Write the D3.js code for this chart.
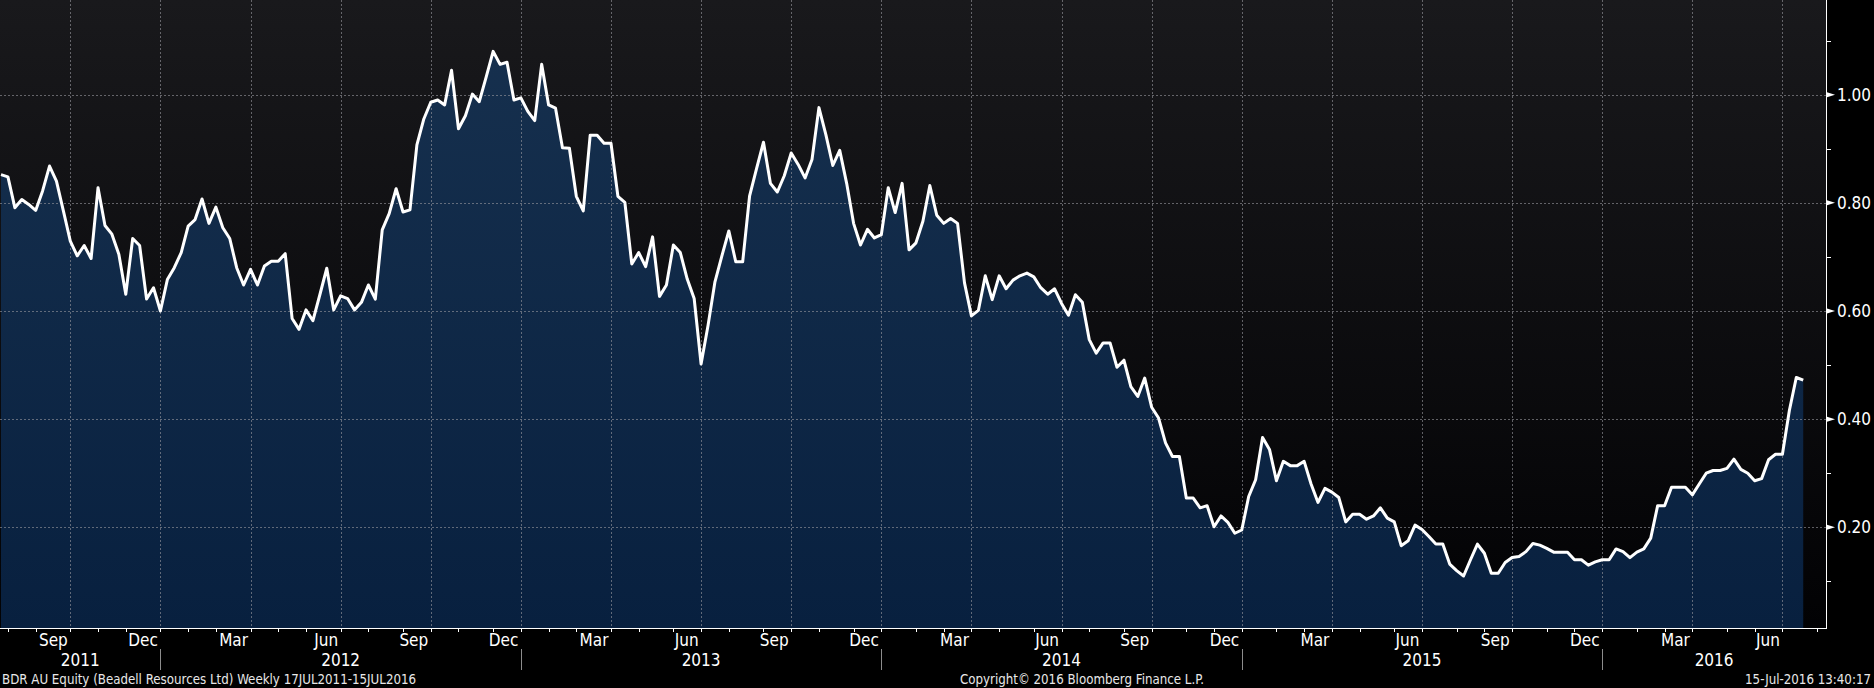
<!DOCTYPE html>
<html>
<head>
<meta charset="utf-8">
<script src="https://cdn.jsdelivr.net/npm/d3@7"></script>
<style>
  html, body { margin: 0; padding: 0; background: #000; }
  svg { display: block; }
  text { font-family: "DejaVu Sans Condensed", "DejaVu Sans", sans-serif; }
</style>
</head>
<body>
<svg id="chart" width="1874" height="688"></svg>
<script>
// ---- DATA (weekly closes, BDR AU Equity, 22 Jul 2011 - 15 Jul 2016) ----
const firstWeek = "2011-07-22";
const prices = [
  0.852, 0.848, 0.791, 0.806, 0.797, 0.786, 0.822, 0.868, 0.840, 0.785,
  0.729, 0.702, 0.721, 0.697, 0.828, 0.758, 0.742, 0.705, 0.631, 0.734,
  0.721, 0.622, 0.643, 0.600, 0.658, 0.680, 0.708, 0.757, 0.769, 0.807,
  0.762, 0.792, 0.754, 0.734, 0.680, 0.648, 0.677, 0.648, 0.683, 0.692,
  0.692, 0.706, 0.586, 0.566, 0.602, 0.582, 0.630,
  0.679, 0.602, 0.628, 0.623, 0.602, 0.616, 0.648, 0.622, 0.750, 0.780,
  0.826, 0.783, 0.787, 0.907, 0.955, 0.986, 0.990, 0.981, 1.045, 0.937,
  0.961, 1.001, 0.987, 1.033, 1.080, 1.056, 1.060, 0.990, 0.994, 0.969,
  0.952, 1.056, 0.981, 0.975, 0.902, 0.901, 0.812, 0.785, 0.925, 0.925,
  0.910, 0.910, 0.812,
  0.801, 0.687, 0.708, 0.682, 0.737, 0.627, 0.648, 0.722, 0.708, 0.659,
  0.623, 0.502, 0.573, 0.654, 0.702, 0.748, 0.691, 0.691, 0.813, 0.863,
  0.912, 0.836, 0.820, 0.850, 0.892, 0.871, 0.846, 0.880, 0.976, 0.926,
  0.869, 0.897, 0.836, 0.762, 0.722, 0.751, 0.735, 0.741, 0.828, 0.782,
  0.836, 0.713, 0.726,
  0.766, 0.832, 0.777, 0.762, 0.771, 0.762, 0.652, 0.591, 0.601, 0.665,
  0.621, 0.665, 0.641, 0.657, 0.665, 0.670, 0.663, 0.643, 0.631, 0.641,
  0.614, 0.592, 0.630, 0.616, 0.547, 0.522, 0.541, 0.541, 0.496, 0.509,
  0.460, 0.442, 0.476, 0.422, 0.402, 0.356, 0.331, 0.331, 0.254, 0.254,
  0.236, 0.240, 0.201, 0.221,
  0.209, 0.189, 0.195, 0.257, 0.288, 0.366, 0.344, 0.286, 0.322, 0.314,
  0.314, 0.322, 0.280, 0.246, 0.272, 0.265, 0.255, 0.210, 0.224, 0.224,
  0.215, 0.221, 0.236, 0.217, 0.210, 0.166, 0.175, 0.204, 0.196, 0.183,
  0.169, 0.169, 0.132, 0.120, 0.110, 0.140, 0.169, 0.152, 0.115, 0.115,
  0.135, 0.144, 0.146,
  0.155, 0.170, 0.167, 0.161, 0.154, 0.154, 0.154, 0.140, 0.140, 0.130,
  0.136, 0.140, 0.140, 0.160, 0.155, 0.144, 0.154, 0.160, 0.180, 0.240,
  0.240, 0.274, 0.274, 0.274, 0.260, 0.280, 0.300, 0.305, 0.305, 0.309,
  0.326, 0.307, 0.300, 0.286, 0.290, 0.325, 0.335, 0.335, 0.416, 0.477,
  0.472
];
const yTicksLabelled = [0.2, 0.4, 0.6, 0.8, 1.0];
const yTicksMinor = [0.1, 0.3, 0.5, 0.7, 0.9, 1.1];
const quarterMonths = ["Mar", "Jun", "Sep", "Dec"];
const years = [2011, 2012, 2013, 2014, 2015, 2016];
const footerLeft = "BDR AU Equity (Beadell Resources Ltd)  Weekly 17JUL2011-15JUL2016";
const footerMid = "Copyright\u00A9 2016 Bloomberg Finance L.P.";
const footerRight = "15-Jul-2016 13:40:17";

// ---- BUILD ----
const parse = d3.timeParse("%Y-%m-%d");
const start = parse(firstWeek);
const dates = prices.map((_, i) => d3.timeDay.offset(start, 7 * i));
const data = prices.map((v, i) => ({ date: dates[i], value: v }));

const W = 1874, H = 688;
const plotRight = 1826, plotBottom = 628;

const x = d3.scaleTime()
  .domain([start, parse("2016-08-07")])
  .range([1, plotRight]);
const y = d3.scaleLinear()
  .domain([0.0138, 1.175])
  .range([plotBottom, 0]);

const svg = d3.select("#chart");
const defs = svg.append("defs");

const bg = defs.append("linearGradient").attr("id", "bg")
  .attr("x1", 0).attr("y1", 0).attr("x2", 0).attr("y2", 1);
bg.append("stop").attr("offset", "0%").attr("stop-color", "#19191c");
bg.append("stop").attr("offset", "100%").attr("stop-color", "#020204");

const af = defs.append("linearGradient").attr("id", "af")
  .attr("gradientUnits", "userSpaceOnUse")
  .attr("x1", 0).attr("y1", 0).attr("x2", 0).attr("y2", plotBottom);
af.append("stop").attr("offset", "0%").attr("stop-color", "#17314f");
af.append("stop").attr("offset", "100%").attr("stop-color", "#08203f");

// page background
svg.append("rect").attr("width", W).attr("height", H).attr("fill", "#000");
// plot background
svg.append("rect").attr("x", 0).attr("y", 0)
  .attr("width", plotRight).attr("height", plotBottom).attr("fill", "url(#bg)");

// area
const area = d3.area()
  .x(d => x(d.date)).y0(plotBottom).y1(d => y(d.value));
svg.append("path").datum(data).attr("d", area).attr("fill", "url(#af)");

// month ticks: last weekly (Friday) date of each month
const months = d3.timeMonth.range(d3.timeMonth.floor(start), d3.timeMonth.offset(parse("2016-08-07"), 1));
const monthTicks = [];
months.forEach(m => {
  const last = d3.timeDay.offset(d3.timeMonth.offset(m, 1), -1);
  const back = (last.getDay() - 5 + 7) % 7;
  const t = d3.timeDay.offset(last, -back);
  if (t >= start && t <= x.domain()[1]) monthTicks.push(t);
});
const fmtMon = d3.timeFormat("%b");
const quarterTicks = monthTicks.filter(t => quarterMonths.includes(fmtMon(t)));

// grid
const grid = svg.append("g").attr("stroke", "#9a9aa0").attr("stroke-opacity", 0.6)
  .attr("stroke-width", 1).attr("stroke-dasharray", "2,2").attr("fill", "none");
grid.selectAll("line.h").data(yTicksLabelled).join("line").attr("class", "h")
  .attr("x1", 0).attr("x2", plotRight)
  .attr("y1", d => Math.round(y(d)) + 0.5).attr("y2", d => Math.round(y(d)) + 0.5);
grid.selectAll("line.v").data(quarterTicks).join("line").attr("class", "v")
  .attr("x1", d => Math.round(x(d)) + 0.5).attr("x2", d => Math.round(x(d)) + 0.5)
  .attr("y1", 0).attr("y2", plotBottom);

// price line
const line = d3.line().x(d => x(d.date)).y(d => y(d.value));
svg.append("path").datum(data).attr("d", line)
  .attr("fill", "none").attr("stroke", "#ffffff").attr("stroke-width", 3)
  .attr("stroke-linejoin", "round").attr("stroke-linecap", "butt");

// axes lines
svg.append("line").attr("x1", 0).attr("x2", plotRight + 0.5)
  .attr("y1", plotBottom + 0.5).attr("y2", plotBottom + 0.5)
  .attr("stroke", "#fff").attr("stroke-width", 1);
svg.append("line").attr("x1", plotRight + 0.5).attr("x2", plotRight + 0.5)
  .attr("y1", 0).attr("y2", plotBottom + 1)
  .attr("stroke", "#fff").attr("stroke-width", 1);

// x ticks
svg.append("g").selectAll("line").data(monthTicks).join("line")
  .attr("x1", d => Math.round(x(d)) + 0.5).attr("x2", d => Math.round(x(d)) + 0.5)
  .attr("y1", plotBottom).attr("y2", plotBottom + 4)
  .attr("stroke", "#fff").attr("stroke-width", 1);

// quarter labels
svg.append("g").selectAll("text").data(quarterTicks).join("text")
  .attr("x", d => x(d) - 2.5).attr("y", 646)
  .attr("text-anchor", "end").attr("fill", "#fff")
  .style("font-size", "17px")
  .text(d => fmtMon(d));

// year separators & labels
const decTick = yr => monthTicks.find(t => t.getFullYear() === yr && t.getMonth() === 11);
const yearG = svg.append("g");
years.forEach(yr => {
  const prevDec = decTick(yr - 1);
  const thisDec = decTick(yr);
  const left = prevDec ? x(prevDec) : 0;
  const right = thisDec ? x(thisDec) : plotRight;
  yearG.append("text").attr("x", (left + right) / 2).attr("y", 665.5)
    .attr("text-anchor", "middle").attr("fill", "#fff")
    .style("font-size", "17px").text(yr);
  if (thisDec) {
    yearG.append("line")
      .attr("x1", Math.round(x(thisDec)) + 0.5).attr("x2", Math.round(x(thisDec)) + 0.5)
      .attr("y1", 649).attr("y2", 670)
      .attr("stroke", "#8c8c8c").attr("stroke-width", 1);
  }
});

// y axis ticks & labels
const yAx = svg.append("g");
yAx.selectAll("path.mark").data(yTicksLabelled).join("path").attr("class", "mark")
  .attr("d", d => { const yy = y(d); return `M${plotRight + 1},${yy - 2.5}L${plotRight + 9},${yy}L${plotRight + 1},${yy + 2.5}Z`; })
  .attr("fill", "#fff");
yAx.selectAll("line.minor").data(yTicksMinor).join("line").attr("class", "minor")
  .attr("x1", plotRight + 1).attr("x2", plotRight + 5)
  .attr("y1", d => Math.round(y(d)) + 0.5).attr("y2", d => Math.round(y(d)) + 0.5)
  .attr("stroke", "#fff").attr("stroke-width", 1);
yAx.selectAll("text").data(yTicksLabelled).join("text")
  .attr("x", 1837).attr("y", d => y(d)).attr("dy", "0.36em")
  .attr("fill", "#fff").style("font-size", "17px")
  .text(d => d3.format(".2f")(d));

// footer
const foot = svg.append("g").attr("fill", "#e8e8e8").style("font-size", "13.2px")
  .style("white-space", "pre");
foot.append("text").attr("x", 2).attr("y", 684).text(footerLeft);
foot.append("text").attr("x", 1082).attr("y", 684).attr("text-anchor", "middle").text(footerMid);
foot.append("text").attr("x", 1871).attr("y", 684).attr("text-anchor", "end").text(footerRight);
</script>
</body>
</html>
